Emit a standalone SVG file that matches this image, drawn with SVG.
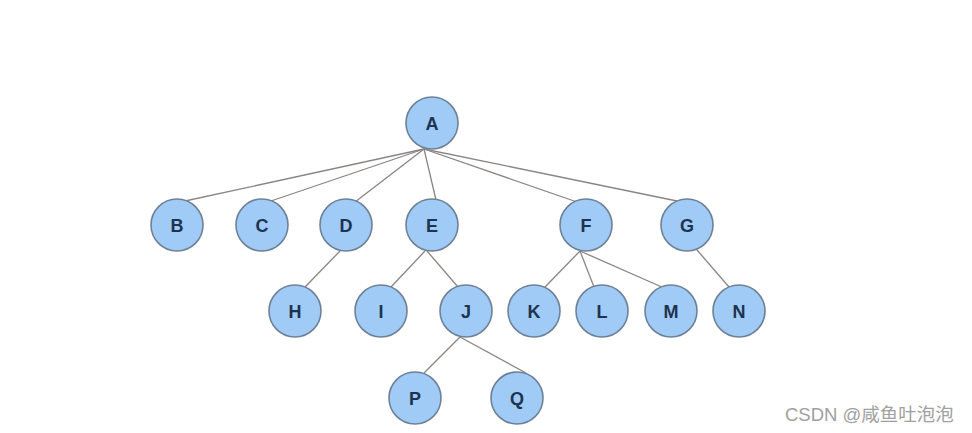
<svg xmlns="http://www.w3.org/2000/svg" width="972" height="433" viewBox="0 0 972 433">
<style>
.n circle{fill:#9fcbf6;stroke:#6f8196;stroke-width:1.6}
.n text{font-family:"Liberation Sans",Arial,sans-serif;font-size:18px;font-weight:bold;fill:#1d3350;text-anchor:middle;dominant-baseline:central}
.e line{stroke:#8a8580;stroke-width:1.3}
.wm{font-family:"Liberation Sans","Noto Sans CJK SC",sans-serif;font-size:18.5px;fill:#a0a0a0}
</style>
<rect width="972" height="433" fill="#fff"/>
<g id="connectors" class="e">
<line x1="424" y1="149" x2="185" y2="201"/>
<line x1="424" y1="149" x2="271" y2="201"/>
<line x1="424" y1="149" x2="355" y2="202"/>
<line x1="424" y1="149" x2="436" y2="200"/>
<line x1="424" y1="149" x2="577" y2="202"/>
<line x1="424" y1="149" x2="677" y2="201"/>
<line x1="340" y1="251" x2="305" y2="287"/>
<line x1="425" y1="251" x2="391" y2="287"/>
<line x1="427" y1="251" x2="458" y2="287"/>
<line x1="580" y1="251" x2="545" y2="287"/>
<line x1="580" y1="251" x2="594" y2="287"/>
<line x1="580" y1="251" x2="664" y2="288"/>
<line x1="697" y1="250" x2="729" y2="287"/>
<line x1="460" y1="337" x2="424" y2="373"/>
<line x1="460" y1="337" x2="526" y2="373"/>
</g>
<g id="A" class="n"><circle cx="432" cy="123" r="26"/><text x="432" y="124">A</text></g>
<g id="B" class="n"><circle cx="177" cy="225" r="26"/><text x="177" y="226">B</text></g>
<g id="C" class="n"><circle cx="262" cy="225" r="26"/><text x="262" y="226">C</text></g>
<g id="D" class="n"><circle cx="346" cy="225" r="26"/><text x="346" y="226">D</text></g>
<g id="E" class="n"><circle cx="432" cy="225" r="26"/><text x="432" y="226">E</text></g>
<g id="F" class="n"><circle cx="586" cy="225" r="26"/><text x="586" y="226">F</text></g>
<g id="G" class="n"><circle cx="687" cy="225" r="26"/><text x="687" y="226">G</text></g>
<g id="H" class="n"><circle cx="295" cy="311" r="26"/><text x="295" y="312">H</text></g>
<g id="I" class="n"><circle cx="381" cy="311" r="26"/><text x="381" y="312">I</text></g>
<g id="J" class="n"><circle cx="466" cy="311" r="26"/><text x="466" y="312">J</text></g>
<g id="K" class="n"><circle cx="534" cy="311" r="26"/><text x="534" y="312">K</text></g>
<g id="L" class="n"><circle cx="602" cy="311" r="26"/><text x="602" y="312">L</text></g>
<g id="M" class="n"><circle cx="671" cy="311" r="26"/><text x="671" y="312">M</text></g>
<g id="N" class="n"><circle cx="739" cy="311" r="26"/><text x="739" y="312">N</text></g>
<g id="P" class="n"><circle cx="415" cy="398" r="26"/><text x="415" y="399">P</text></g>
<g id="Q" class="n"><circle cx="517" cy="398" r="26"/><text x="517" y="399">Q</text></g>
<text class="wm" x="785" y="421">CSDN @咸鱼吐泡泡</text>
</svg>
